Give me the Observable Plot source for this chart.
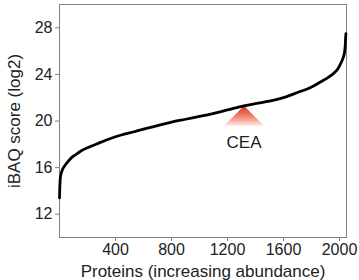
<!DOCTYPE html>
<html><head><meta charset="utf-8">
<script src="https://cdn.jsdelivr.net/npm/d3@7"></script>
<script src="https://cdn.jsdelivr.net/npm/@observablehq/plot@0.6"></script>
<style>
body{margin:0;background:#fff}
svg{font-family:Arial,"Liberation Sans",sans-serif}
g[aria-label="x-axis label"] text, g[aria-label="y-axis label"] text{font-size:17px}
</style>
</head><body><div id="chart"></div><script>
// data
const proteins = [0,2,5,10,20,40,66,90,114,150,209,270,330,400,470,540,600,700,800,900,1000,1080,1200,1317,1400,1500,1600,1700,1790,1864,1920,1959,1990,2007,2025,2036,2041,2044,2046];
const scores   = [13.4,14.2,15.0,15.4,15.8,16.2,16.6,16.9,17.1,17.4,17.75,18.05,18.35,18.65,18.9,19.1,19.3,19.6,19.9,20.15,20.4,20.6,20.95,21.3,21.5,21.7,22.0,22.45,22.85,23.35,23.75,24.1,24.5,24.9,25.4,25.9,26.5,27.2,27.5];
const xTicks = [400,800,1200,1600,2000];
const yTicks = [12,16,20,24,28];
const markerLabel = ["CEA"];
const markerX = [1318];
const markerY = [21.3];
const xTitle = "Proteins (increasing abundance)";
const yTitle = "iBAQ score (log2)";

const curve = proteins.map((p,i)=>({p, s: scores[i]}));
const marker = markerLabel.map((name,i)=>({name, x: markerX[i], y: markerY[i]}));

const defs = () => {
  const d = d3.create("svg:defs");
  const g = d.append("linearGradient").attr("id","ceaGrad").attr("x1",0).attr("y1",0).attr("x2",0).attr("y2",1);
  g.append("stop").attr("offset","0%").attr("stop-color","#d8361e");
  g.append("stop").attr("offset","55%").attr("stop-color","#ee8a76");
  g.append("stop").attr("offset","100%").attr("stop-color","#fde9e3");
  return d.node();
};
const triSymbol = {draw(ctx){ ctx.moveTo(0,0); ctx.lineTo(20,20); ctx.lineTo(-20,20); ctx.closePath(); }};

const chart = Plot.plot({
  width:359, height:280,
  marginLeft:59, marginRight:13, marginTop:4, marginBottom:43,
  style:{fontFamily:"Arial, 'Liberation Sans', sans-serif", fontSize:"16px", color:"#222", background:"#fff"},
  x:{domain:[0,2050]},
  y:{domain:[10,30]},
  marks:[
    defs,
    Plot.frame({stroke:"#808080"}),
    Plot.axisX({ticks:xTicks, tickSize:4, tickPadding:2, stroke:"#808080", label:xTitle, labelAnchor:"center", labelOffset:39, labelArrow:"none", tickFormat:d=>String(d)}),
    Plot.axisY({ticks:yTicks, tickSize:4, tickPadding:3, stroke:"#808080", label:yTitle, labelAnchor:"center", labelOffset:52, labelArrow:"none"}),
    Plot.dot(marker, {x:"x", y:"y", symbol:triSymbol, fill:"url(#ceaGrad)", stroke:"none", r:10}),
    Plot.line(curve, {x:"p", y:"s", stroke:"#000", strokeWidth:2.8, curve:"monotone-x"}),
    Plot.text(marker, {x:"x", y:"y", text:"name", dy:37, fontSize:17, fill:"#222"})
  ]
});
document.getElementById("chart").append(chart);
</script></body></html>
